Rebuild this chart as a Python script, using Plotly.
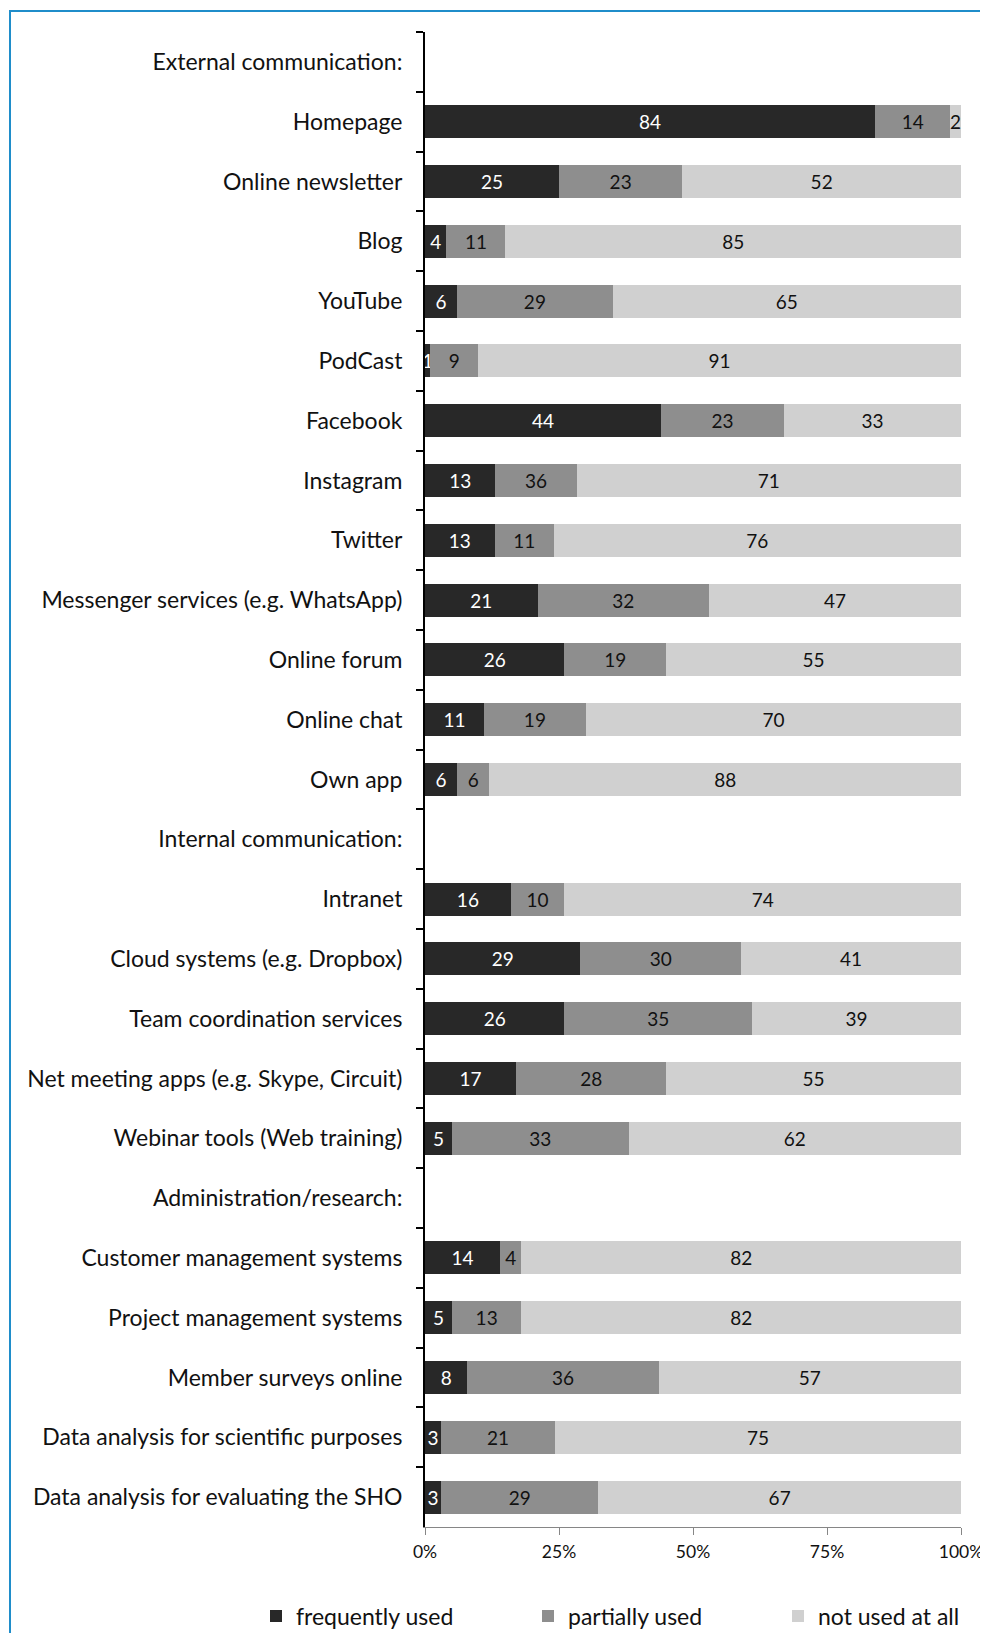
import plotly.graph_objects as go

# ---------------- data ----------------
categories = [
    "External communication:",
    "Homepage",
    "Online newsletter",
    "Blog",
    "YouTube",
    "PodCast",
    "Facebook",
    "Instagram",
    "Twitter",
    "Messenger services (e.g. WhatsApp)",
    "Online forum",
    "Online chat",
    "Own app",
    "Internal communication:",
    "Intranet",
    "Cloud systems (e.g. Dropbox)",
    "Team coordination services",
    "Net meeting apps (e.g. Skype, Circuit)",
    "Webinar tools (Web training)",
    "Administration/research:",
    "Customer management systems",
    "Project management systems",
    "Member surveys online",
    "Data analysis for scientific purposes",
    "Data analysis for evaluating the SHO",
]

# printed data labels
frequently_used = [None, 84, 25, 4, 6, 1, 44, 13, 13, 21, 26, 11, 6,
                   None, 16, 29, 26, 17, 5,
                   None, 14, 5, 8, 3, 3]
partially_used = [None, 14, 23, 11, 29, 9, 23, 36, 11, 32, 19, 19, 6,
                  None, 10, 30, 35, 28, 33,
                  None, 4, 13, 36, 21, 29]
not_used_at_all = [None, 2, 52, 85, 65, 91, 33, 71, 76, 47, 55, 70, 88,
                   None, 74, 41, 39, 55, 62,
                   None, 82, 82, 57, 75, 67]

# drawn segment widths of "partially used" (the Instagram bar is drawn ~15 % wide
# although labelled 36 in the original)
partially_used_drawn = [None, 14, 23, 11, 29, 9, 23, 15, 11, 32, 19, 19, 6,
                        None, 10, 30, 35, 28, 33,
                        None, 4, 13, 36, 21, 29]

series_names = ["frequently used", "partially used", "not used at all"]
x_ticks = [0, 25, 50, 75, 100]
x_tick_labels = ["0%", "25%", "50%", "75%", "100%"]

# ---------------- style ----------------
FONT = "Lato, 'Open Sans', sans-serif"
colors = ["#282828", "#8e8e8e", "#d0d0d0"]
text_colors = ["#ffffff", "#111111", "#111111"]

# the page adds an 8px body margin, so the figure is shifted by 8px
W, H = 978, 1625
L, T = 417, 24
R = W - 953
B = H - 1519
plot_w = W - L - R
plot_h = H - T - B


def lbl(v):
    return "" if v is None else str(v)


fig = go.Figure()
series = [
    (frequently_used, frequently_used),
    (partially_used_drawn, partially_used),
    (not_used_at_all, not_used_at_all),
]
legend_ids = ["legend", "legend2", "legend3"]
for i, (widths, labels) in enumerate(series):
    fig.add_trace(go.Bar(
        y=categories,
        x=widths,
        orientation="h",
        name=series_names[i],
        marker=dict(color=colors[i], line=dict(width=0)),
        text=[lbl(v) for v in labels],
        texttemplate="%{text}",
        textposition="inside",
        insidetextanchor="middle",
        textangle=0,
        constraintext="none",
        cliponaxis=False,
        textfont=dict(family=FONT, size=19, color=text_colors[i]),
        legend=legend_ids[i],
        hoverinfo="skip",
    ))

# legend text starts (px, figure coords)
legend_text_x = [288, 560, 810]
legend_common = dict(
    orientation="h",
    xref="container", yref="container",
    xanchor="left", yanchor="middle",
    y=1 - 1608 / H,
    font=dict(family=FONT, size=23, color="#111111"),
    bgcolor="rgba(0,0,0,0)",
    borderwidth=0,
    itemclick=False, itemdoubleclick=False,
)
legends = {}
for i, lid in enumerate(legend_ids):
    legends[lid] = dict(legend_common, x=(legend_text_x[i] - 40) / W)


def px_x(p):
    return (p - L) / plot_w


def px_y(p):
    return (H - B - p) / plot_h


FRAME = dict(color="#1f8dca", width=2)
fig.update_layout(
    width=W, height=H,
    margin=dict(l=L, r=R, t=T, b=B, pad=0, autoexpand=False),
    barmode="stack",
    barnorm="percent",
    bargap=0.445,
    plot_bgcolor="white",
    paper_bgcolor="white",
    font=dict(family=FONT, size=23, color="#111111"),
    showlegend=True,
    **legends,
    # blue frame: only top and left edges are visible in the reference
    shapes=[
        dict(type="line", xref="paper", yref="paper",
             x0=px_x(2), x1=px_x(W + 20), y0=px_y(3), y1=px_y(3),
             line=FRAME, layer="above"),
        dict(type="line", xref="paper", yref="paper",
             x0=px_x(2), x1=px_x(2), y0=px_y(2), y1=px_y(H + 20),
             line=FRAME, layer="above"),
    ],
)

fig.update_yaxes(
    type="category",
    categoryorder="array", categoryarray=categories,
    autorange="reversed",
    automargin=False,
    showline=True, linecolor="#000000", linewidth=2,
    ticks="outside", tickson="boundaries", ticklen=7,
    tickcolor="#000000", tickwidth=2,
    ticklabelstandoff=16,
    tickfont=dict(family=FONT, size=23, color="#111111"),
    showgrid=False, zeroline=False,
)
fig.update_xaxes(
    range=[0, 100],
    automargin=False,
    tickmode="array", tickvals=x_ticks, ticktext=x_tick_labels,
    showline=True, linecolor="#868686", linewidth=1,
    ticks="outside", ticklen=7, tickcolor="#868686", tickwidth=1,
    ticklabelstandoff=2,
    ticklabeloverflow="allow",
    tickfont=dict(family=FONT, size=17.5, color="#111111"),
    showgrid=False, zeroline=False,
)

fig.write_html("out.html")
